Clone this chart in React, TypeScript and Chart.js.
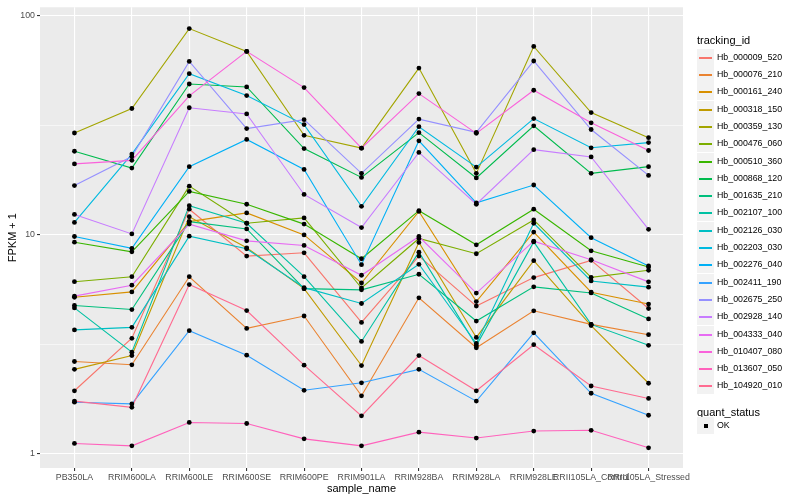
import React, { useEffect, useRef } from "react";
import { Chart, registerables } from "chart.js";

Chart.register(...registerables);

const categories = [
  "PB350LA",
  "RRIM600LA",
  "RRIM600LE",
  "RRIM600SE",
  "RRIM600PE",
  "RRIM901LA",
  "RRIM928BA",
  "RRIM928LA",
  "RRIM928LE",
  "RRII105LA_Control",
  "RRII105LA_Stressed",
];

const trackingIds = [
  "Hb_000009_520",
  "Hb_000076_210",
  "Hb_000161_240",
  "Hb_000318_150",
  "Hb_000359_130",
  "Hb_000476_060",
  "Hb_000510_360",
  "Hb_000868_120",
  "Hb_001635_210",
  "Hb_002107_100",
  "Hb_002126_030",
  "Hb_002203_030",
  "Hb_002276_040",
  "Hb_002411_190",
  "Hb_002675_250",
  "Hb_002928_140",
  "Hb_004333_040",
  "Hb_010407_080",
  "Hb_013607_050",
  "Hb_104920_010",
];

const colors = [
  "#F8766D", "#EA8331", "#D89000", "#C09B00", "#A3A500",
  "#7CAE00", "#39B600", "#00BB4E", "#00BF7D", "#00C1A3",
  "#00BFC4", "#00BAE0", "#00B0F6", "#35A2FF", "#9590FF",
  "#C77CFF", "#E76BF3", "#FA62DB", "#FF62BC", "#FF6C91",
];

// FPKM + 1 per sample (same order as categories)
const Hb_000009_520 = [1.94, 3.37, 13.1, 8.0, 8.28, 3.98, 8.0, 4.73, 6.38, 7.65, 4.61];
const Hb_000076_210 = [2.64, 2.55, 6.44, 3.74, 4.26, 1.84, 5.16, 3.05, 4.5, 3.9, 3.5];
const Hb_000161_240 = [5.19, 5.49, 11.5, 12.6, 10.0, 6.03, 12.8, 4.96, 10.3, 5.47, 4.83];
const Hb_000318_150 = [2.43, 2.81, 12.1, 8.73, 5.68, 2.53, 9.24, 3.4, 7.62, 3.85, 2.1];
const Hb_000359_130 = [29.2, 37.8, 87.6, 68.9, 28.5, 24.9, 57.8, 19.1, 72.6, 36.2, 27.8];
const Hb_000476_060 = [6.11, 6.44, 16.7, 11.3, 11.95, 5.72, 9.63, 8.2, 11.7, 6.4, 6.89];
const Hb_000510_360 = [9.26, 8.37, 15.8, 13.8, 11.2, 7.78, 12.9, 9.01, 13.1, 8.46, 7.13];
const Hb_000868_120 = [24.1, 20.2, 48.9, 47.4, 24.8, 18.3, 29.3, 18.2, 31.5, 19.1, 20.5];
const Hb_001635_210 = [4.76, 4.56, 11.5, 10.65, 5.68, 5.61, 6.61, 4.04, 5.79, 5.43, 4.13];
const Hb_002107_100 = [4.64, 2.91, 13.6, 11.3, 6.44, 3.26, 8.34, 3.12, 9.29, 3.9, 3.13];
const Hb_002126_030 = [3.68, 3.78, 9.86, 8.64, 5.74, 4.86, 7.34, 3.19, 11.3, 6.16, 5.77];
const Hb_002203_030 = [11.4, 23.4, 54.5, 43.3, 31.9, 13.5, 31.2, 20.4, 34.0, 25.0, 26.4];
const Hb_002276_040 = [9.83, 8.68, 20.5, 27.3, 19.9, 7.31, 26.9, 14.0, 16.9, 9.71, 7.21];
const Hb_002411_190 = [1.72, 1.69, 3.65, 2.82, 1.95, 2.11, 2.43, 1.74, 3.57, 1.89, 1.5];
const Hb_002675_250 = [16.8, 22.8, 62.0, 30.6, 33.6, 19.1, 33.8, 29.4, 62.3, 30.3, 18.7];
const Hb_002928_140 = [12.4, 10.1, 38.1, 35.7, 15.3, 10.8, 23.8, 13.8, 24.5, 22.7, 10.6];
const Hb_004333_040 = [5.25, 5.89, 11.2, 9.39, 8.95, 6.54, 9.83, 5.42, 9.36, 7.7, 6.1];
const Hb_010407_080 = [21.1, 21.9, 43.2, 68.9, 47.1, 24.9, 44.2, 29.1, 45.8, 32.5, 24.3];
const Hb_013607_050 = [1.115, 1.087, 1.39, 1.375, 1.17, 1.087, 1.255, 1.18, 1.27, 1.28, 1.065];
const Hb_104920_010 = [1.74, 1.63, 5.93, 4.51, 2.54, 1.49, 2.81, 1.94, 3.15, 2.04, 1.79];

const seriesValues = [
  Hb_000009_520, Hb_000076_210, Hb_000161_240, Hb_000318_150, Hb_000359_130,
  Hb_000476_060, Hb_000510_360, Hb_000868_120, Hb_001635_210, Hb_002107_100,
  Hb_002126_030, Hb_002203_030, Hb_002276_040, Hb_002411_190, Hb_002675_250,
  Hb_002928_140, Hb_004333_040, Hb_010407_080, Hb_013607_050, Hb_104920_010,
];

const yMajorTicks = [1, 10, 100];
const yMinorTicks = [3.1623, 31.623];
const quantStatus = ["OK"];

const FONT = '"Liberation Sans", Arial, Helvetica, sans-serif';

export default function App() {
  const ref = useRef<HTMLCanvasElement | null>(null);

  useEffect(() => {
    document.body.style.margin = "0";
    const canvas = ref.current;
    if (!canvas) return;

    const panelBg = {
      id: "panelBg",
      beforeDraw(chart: any) {
        const { ctx, chartArea: a } = chart;
        ctx.save();
        ctx.fillStyle = "#EBEBEB";
        ctx.fillRect(a.left, a.top, a.right - a.left, a.bottom - a.top);
        ctx.restore();
      },
    };

    const n = seriesValues.length;
    const lineSets = seriesValues.map((vals, i) => ({
      label: trackingIds[i],
      data: vals.map((v, j) => ({ x: j, y: v })),
      borderColor: colors[i],
      backgroundColor: colors[i],
      borderWidth: 1.1,
      pointRadius: 0,
      tension: 0,
      fill: false,
      order: n - i,
    }));
    const pointSets = seriesValues.map((vals, i) => ({
      label: trackingIds[i] + " " + quantStatus[0],
      data: vals.map((v, j) => ({ x: j, y: v })),
      showLine: false,
      pointRadius: 2.4,
      pointBackgroundColor: "#000000",
      pointBorderColor: "#000000",
      pointBorderWidth: 0,
      order: -1,
    }));

    const isMajor = (c: any) => c.tick && yMajorTicks.includes(c.tick.value);

    const chart = new Chart(canvas, {
      type: "line",
      data: { datasets: [...lineSets, ...pointSets] as any },
      options: {
        animation: false,
        responsive: false,
        events: [],
        layout: { padding: { top: 5, right: 117, left: 0, bottom: 0 } },
        plugins: { legend: { display: false }, tooltip: { enabled: false } },
        scales: {
          x: {
            type: "linear",
            min: -0.6,
            max: 10.6,
            afterBuildTicks: (s: any) => {
              s.ticks = categories.map((_, i) => ({ value: i }));
            },
            afterFit: (s: any) => {
              s.height = 32;
            },
            ticks: {
              callback: (v: any) => categories[v] ?? "",
              autoSkip: false,
              maxRotation: 0,
              minRotation: 0,
              color: "#4D4D4D",
              font: { family: FONT, size: 8.8 },
              padding: 1.5,
            },
            grid: {
              color: "#FFFFFF",
              lineWidth: 1.1,
              tickLength: 3,
              tickColor: "#333333",
              tickWidth: 1.1,
            },
            border: { display: false },
            title: {
              display: true,
              text: "sample_name",
              color: "#000000",
              font: { family: FONT, size: 11 },
              padding: { top: 0, bottom: 4 },
            },
          },
          y: {
            type: "logarithmic",
            min: 0.861,
            max: 109.6,
            afterBuildTicks: (s: any) => {
              s.ticks = [...yMajorTicks, ...yMinorTicks]
                .sort((a, b) => a - b)
                .map((v) => ({ value: v }));
            },
            afterFit: (s: any) => {
              s.width = 40;
            },
            ticks: {
              callback: (v: any) => (yMajorTicks.includes(v) ? String(v) : ""),
              autoSkip: false,
              color: "#4D4D4D",
              font: { family: FONT, size: 8.8 },
              padding: 2,
            },
            grid: {
              color: "#FFFFFF",
              lineWidth: (c: any) => (isMajor(c) ? 1.1 : 0.55),
              tickLength: 3,
              tickColor: (c: any) => (isMajor(c) ? "#333333" : "rgba(0,0,0,0)"),
              tickWidth: 1.1,
            },
            border: { display: false },
            title: {
              display: true,
              text: "FPKM + 1",
              color: "#000000",
              font: { family: FONT, size: 11 },
              padding: { top: 6, bottom: 0 },
            },
          },
        },
      } as any,
      plugins: [panelBg],
    });

    return () => chart.destroy();
  }, []);

  const keyTop0 = 48.7;
  const step = 17.3;

  return (
    <div style={{ position: "relative", width: 800, height: 500, fontFamily: FONT }}>
      <canvas ref={ref} width={800} height={500} style={{ width: 800, height: 500, display: "block" }} />
      <div style={{ position: "absolute", left: 697, top: 33, fontSize: 11, lineHeight: "14px", color: "#000" }}>
        tracking_id
      </div>
      {trackingIds.map((id, i) => (
        <div key={id} style={{ position: "absolute", left: 697, top: Math.round(keyTop0 + i * step), height: 17, width: 100 }}>
          <div style={{ position: "absolute", left: 0, top: 0, width: 17, height: 17, background: "#F2F2F2" }}>
            <div style={{ position: "absolute", left: 2, top: 8, width: 13, height: 2, background: colors[i] }} />
          </div>
          <div style={{ position: "absolute", left: 20, top: 3, fontSize: 8.8, lineHeight: "11px", color: "#000", whiteSpace: "nowrap" }}>
            {id}
          </div>
        </div>
      ))}
      <div style={{ position: "absolute", left: 697, top: 405, fontSize: 11, lineHeight: "14px", color: "#000" }}>
        quant_status
      </div>
      <div style={{ position: "absolute", left: 697, top: 417, height: 17, width: 100 }}>
        <div style={{ position: "absolute", left: 0, top: 0, width: 17, height: 17, background: "#F2F2F2" }}>
          <div style={{ position: "absolute", left: 7, top: 7, width: 4, height: 4, background: "#000" }} />
        </div>
        <div style={{ position: "absolute", left: 20, top: 3, fontSize: 8.8, lineHeight: "11px", color: "#000" }}>
          {quantStatus[0]}
        </div>
      </div>
    </div>
  );
}
